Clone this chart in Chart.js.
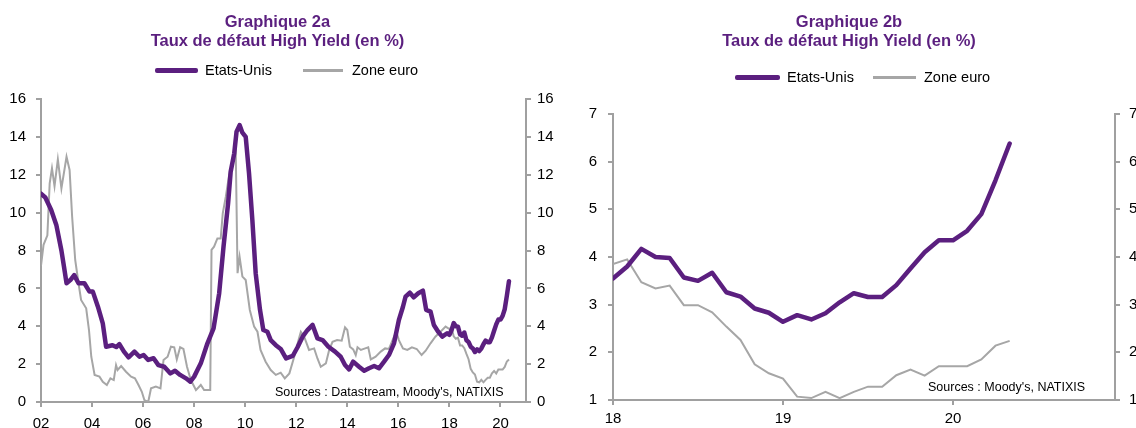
<!DOCTYPE html>
<html><head><meta charset="utf-8">
<script src="https://cdn.jsdelivr.net/npm/chart.js@4.4.1/dist/chart.umd.min.js"></script>
<style>
html,body{margin:0;padding:0;background:#fff;}
#wrap{position:relative;width:1136px;height:428px;overflow:hidden;font-family:"Liberation Sans",Arial,sans-serif;}
canvas{position:absolute;top:0;}
.title{position:absolute;top:12px;text-align:center;color:#5B1F7F;font-weight:bold;font-size:16.5px;line-height:19px;white-space:nowrap;}
.leg{position:absolute;font-size:14.5px;line-height:16px;color:#000;white-space:nowrap;}
.sw{position:absolute;}
.src{position:absolute;font-size:12.5px;line-height:14px;white-space:nowrap;color:#000;}
</style></head>
<body><div id="wrap">
<canvas id="c1" width="568" height="428" style="left:0"></canvas>
<canvas id="c2" width="568" height="428" style="left:568px"></canvas>
<div class="title" style="left:0;width:555px">Graphique 2a<br>Taux de défaut High Yield (en %)</div>
<div class="title" style="left:568px;width:562px">Graphique 2b<br>Taux de défaut High Yield (en %)</div>
<div class="sw" style="left:155px;top:68px;width:43px;height:5px;background:#5B1F7F;border-radius:2px"></div>
<div class="leg" style="left:205px;top:62px">Etats-Unis</div>
<div class="sw" style="left:303px;top:69px;width:40px;height:3px;background:#A6A6A6"></div>
<div class="leg" style="left:352px;top:62px">Zone euro</div>
<div class="sw" style="left:735px;top:75px;width:45px;height:5px;background:#5B1F7F;border-radius:2px"></div>
<div class="leg" style="left:787px;top:69px">Etats-Unis</div>
<div class="sw" style="left:873px;top:76px;width:43px;height:3px;background:#A6A6A6"></div>
<div class="leg" style="left:924px;top:69px">Zone euro</div>
<div class="src" style="left:275px;top:385px">Sources : Datastream, Moody's, NATIXIS</div>
<div class="src" style="left:928px;top:380px">Sources : Moody's, NATIXIS</div>
</div>
<script>
// ---- Data ----
const usLongYears = [2002.0,2002.17,2002.4,2002.6,2002.8,2002.9,2003.0,2003.15,2003.3,2003.47,2003.7,2003.9,2004.03,2004.23,2004.42,2004.55,2004.8,2004.95,2005.07,2005.25,2005.43,2005.66,2005.86,2006.02,2006.2,2006.41,2006.6,2006.83,2007.07,2007.25,2007.45,2007.68,2007.85,2008.0,2008.26,2008.52,2008.76,2008.98,2009.15,2009.33,2009.43,2009.57,2009.66,2009.78,2009.89,2010.02,2010.15,2010.28,2010.41,2010.58,2010.71,2010.87,2011.0,2011.2,2011.39,2011.6,2011.86,2012.05,2012.25,2012.44,2012.64,2012.83,2013.03,2013.26,2013.52,2013.74,2013.91,2014.07,2014.23,2014.46,2014.66,2014.85,2015.05,2015.24,2015.44,2015.63,2015.83,2016.02,2016.18,2016.28,2016.45,2016.6,2016.78,2016.96,2017.09,2017.26,2017.39,2017.56,2017.72,2017.91];
const usLongValues = [11.0,10.8,10.14,9.35,8.0,7.15,6.27,6.44,6.7,6.27,6.27,5.83,5.83,5.03,4.15,2.92,3.0,2.9,3.06,2.66,2.36,2.66,2.39,2.48,2.22,2.31,1.95,1.86,1.51,1.65,1.43,1.25,1.07,1.34,2.04,3.1,3.89,5.74,8.2,10.49,12.16,13.13,14.27,14.62,14.22,14.0,12.07,9.6,6.8,4.86,3.8,3.71,3.27,3.0,2.8,2.3,2.43,2.89,3.45,3.8,4.07,3.36,3.27,2.92,2.66,2.39,1.95,1.72,2.13,1.86,1.65,1.78,1.9,1.78,2.13,2.48,3.1,4.33,5.03,5.56,5.77,5.53,5.74,5.88,4.86,4.77,4.07,3.71,3.45,3.63];
const euroLongYears = [2002.0,2002.1,2002.25,2002.34,2002.43,2002.53,2002.66,2002.8,2003.0,2003.12,2003.22,2003.34,2003.47,2003.57,2003.77,2003.88,2003.97,2004.1,2004.29,2004.42,2004.58,2004.72,2004.85,2004.94,2005.0,2005.14,2005.33,2005.53,2005.68,2005.82,2005.95,2006.05,2006.2,2006.31,2006.5,2006.68,2006.8,2006.96,2007.09,2007.22,2007.32,2007.45,2007.58,2007.72,2007.87,2008.07,2008.26,2008.39,2008.63,2008.68,2008.78,2008.91,2009.04,2009.12,2009.24,2009.37,2009.5,2009.63,2009.7,2009.78,2009.89,2010.02,2010.18,2010.35,2010.48,2010.6,2010.8,2011.0,2011.2,2011.39,2011.55,2011.73,2011.92,2012.09,2012.18,2012.31,2012.5,2012.7,2012.83,2012.96,2013.16,2013.29,2013.42,2013.6,2013.78,2013.91,2014.0,2014.1,2014.23,2014.33,2014.4,2014.53,2014.7,2014.82,2014.92,2015.11,2015.31,2015.48,2015.63,2015.83,2015.92,2016.02,2016.18,2016.35,2016.53,2016.72,2016.91,2017.07,2017.26,2017.45,2017.65,2017.85];
const euroLongValues = [7.2,8.3,8.8,11.55,12.34,11.4,12.81,11.28,12.95,12.25,9.78,7.5,6.27,5.39,4.95,3.8,2.39,1.43,1.34,1.07,0.9,1.25,1.16,1.95,1.69,1.9,1.6,1.34,1.25,0.9,0.54,0.1,0.0,0.72,0.81,0.72,2.22,2.39,2.92,2.89,2.25,2.89,2.8,1.86,1.16,0.63,0.9,0.63,0.63,8.03,8.2,8.64,8.64,9.96,10.84,11.99,12.6,13.13,6.8,7.67,6.62,6.44,4.86,3.98,3.71,2.75,2.13,1.69,1.43,1.55,1.25,1.51,2.39,3.27,3.71,3.45,2.75,2.83,2.3,1.86,2.04,2.75,3.18,3.27,3.24,3.94,3.8,2.92,2.78,2.48,2.89,2.75,2.83,2.89,2.25,2.39,2.66,2.83,2.8,3.45,3.71,3.27,2.83,2.75,2.89,2.8,2.48,2.71,3.1,3.45,3.71,3.98];
const recentMonths = ['2018-01','2018-02','2018-03','2018-04','2018-05','2018-06','2018-07','2018-08','2018-09','2018-10','2018-11','2018-12','2019-01','2019-02','2019-03','2019-04','2019-05','2019-06','2019-07','2019-08','2019-09','2019-10','2019-11','2019-12','2020-01','2020-02','2020-03','2020-04','2020-05'];
const usRecent = [3.55,3.80,4.17,4.00,3.98,3.57,3.50,3.67,3.26,3.17,2.92,2.83,2.64,2.78,2.69,2.82,3.05,3.24,3.16,3.16,3.41,3.76,4.10,4.35,4.35,4.55,4.90,5.61,6.38];
const euroRecent = [3.85,3.95,3.47,3.34,3.40,2.99,2.99,2.84,2.54,2.26,1.75,1.56,1.45,1.07,1.04,1.17,1.04,1.17,1.28,1.28,1.52,1.64,1.51,1.71,1.71,1.71,1.85,2.14,2.24];
const leftTickYears = [2002,2004,2006,2008,2010,2012,2014,2016,2018,2020];
const leftTickLabels = ['02','04','06','08','10','12','14','16','18','20'];
const leftYTicks = [0,2,4,6,8,10,12,14,16];
const rightTickYears = [2018,2019,2020];
const rightTickLabels = ['18','19','20'];
const rightYTicks = [1,2,3,4,5,6,7];

// ---- helpers ----
const PURPLE = '#5B1F7F', GREY = '#A6A6A6', AXIS = '#A0A0A0';
const monthToYear = s => { const p = s.split('-').map(Number); return p[0] + (p[1]-1)/12; };
const recentYears = recentMonths.map(monthToYear);
const pts = (xs, ys) => xs.map((x,i) => ({x:x, y:ys[i]}));

Chart.defaults.font.family = '"Liberation Sans", Arial, sans-serif';
Chart.defaults.color = '#000';

function makeChart(id, cfg) {
  const yScale = (pos, width, pad) => ({
    type:'linear', position:pos, min:cfg.yTicks[0], max:cfg.yTicks[cfg.yTicks.length-1],
    afterBuildTicks: s => { s.ticks = cfg.yTicks.map(v => ({value:v})); },
    afterFit: s => { s.width = width; },
    ticks:{font:{size:15}, padding:pad, callback: v => String(v)},
    grid:{display:true, drawOnChartArea:false, drawTicks:true, tickLength:5, color:AXIS, lineWidth:2},
    border:{display:true, color:AXIS, width:2}
  });
  return new Chart(document.getElementById(id), {
    type:'line',
    data:{datasets:[
      {label:'Etats-Unis', data:cfg.us, borderColor:PURPLE, borderWidth:4.5, pointRadius:0, tension:0, borderJoinStyle:'round', borderCapStyle:'round', yAxisID:'y'},
      {label:'Zone euro', data:cfg.euro, borderColor:GREY, borderWidth:2, pointRadius:0, tension:0, yAxisID:'y'}
    ]},
    options:{
      responsive:false, animation:false, devicePixelRatio:1,
      layout:{padding:{top:cfg.top, left:0, right:0, bottom:0}},
      plugins:{legend:{display:false}, tooltip:{enabled:false}, title:{display:false}},
      scales:{
        x:{type:'linear', min:cfg.xMin, max:cfg.xMax,
          afterBuildTicks: s => { s.ticks = cfg.xTicks.map(v => ({value:v})); },
          afterFit: s => { s.height = cfg.xh; },
          ticks:{font:{size:15}, padding:cfg.xPad, maxRotation:0, autoSkip:false,
            callback: v => cfg.xLabels[cfg.xTicks.indexOf(v)]},
          grid:{display:true, drawOnChartArea:false, drawTicks:true, tickLength:5, color:AXIS, lineWidth:2},
          border:{display:true, color:AXIS, width:2}
        },
        y: yScale('left', cfg.lw, cfg.lpad),
        y2: yScale('right', cfg.rw, cfg.rpad)
      }
    }
  });
}

makeChart('c1', {
  us: pts(usLongYears, usLongValues).concat(pts(recentYears, usRecent)),
  euro: pts(euroLongYears, euroLongValues).concat(pts(recentYears, euroRecent)),
  xMin:2002, xMax:2021, xTicks:leftTickYears, xLabels:leftTickLabels, yTicks:leftYTicks,
  top:99, xh:26, lw:41, rw:42, lpad:10, rpad:6, xPad:8
});
makeChart('c2', {
  us: pts(recentYears, usRecent),
  euro: pts(recentYears, euroRecent),
  xMin:2018, xMax:2020.953, xTicks:rightTickYears, xLabels:rightTickLabels, yTicks:rightYTicks,
  top:114, xh:28, lw:45, rw:21, lpad:11, rpad:9, xPad:5
});
</script>
</body></html>
